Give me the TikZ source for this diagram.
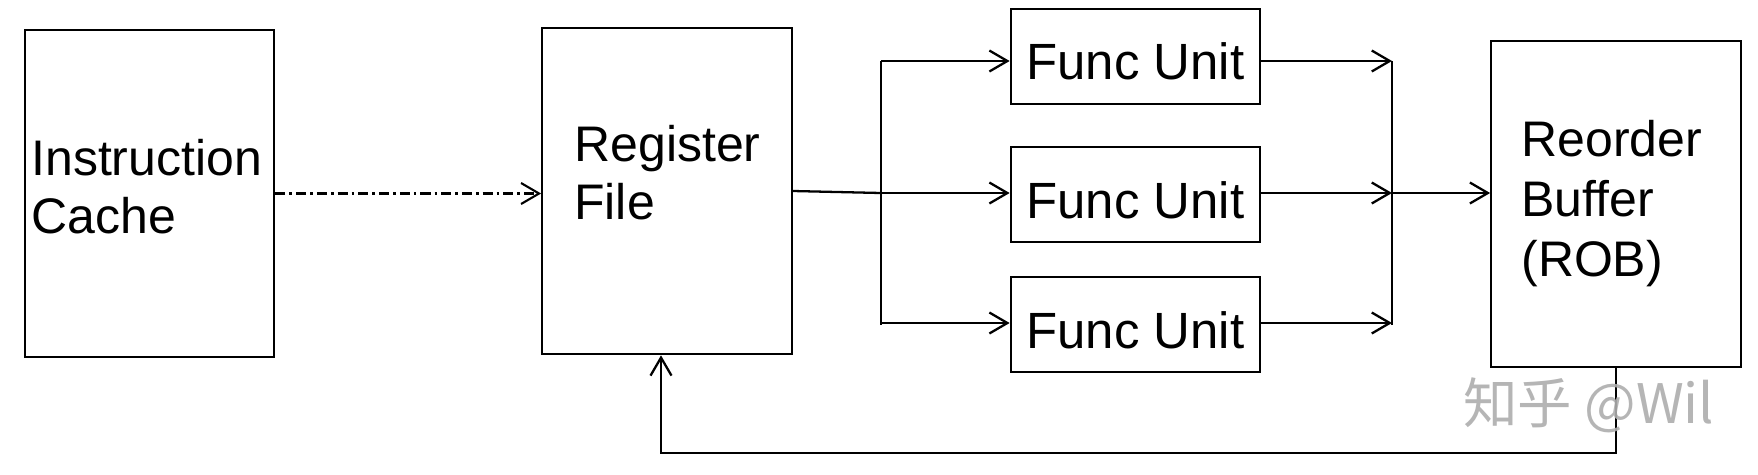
\documentclass[tikz,border=0pt]{standalone}
\usepackage{fontspec}
\setmainfont{Liberation Sans}
\newfontfamily\cjkfont{Noto Sans CJK SC}
\usetikzlibrary{arrows.meta, calc}

\begin{document}
\begin{tikzpicture}[
    x=0.02cm, y=-0.02cm,
    block/.style={
        rectangle,
        draw,
        line width=1.3pt,
        inner sep=0pt,
        minimum width=4.99cm,
        minimum height=6.53cm
    },
    unit/.style={
        block,
        minimum height=1.9cm,
        text height=0.94cm,
        text depth=0pt,
        font=\fontsize{29}{33}\selectfont
    },
    caption/.style={
        anchor=west,
        inner sep=0pt,
        align=left,
        font=\fontsize{28.45}{33}\selectfont
    },
    wire/.style={line width=1.3pt},
    flow/.style={
        wire,
        -{Straight Barb[length=0.36cm, width=0.42cm]}
    }
]
\useasboundingbox (0,0) rectangle (1758,474);

% Left column
\node[block] (ic) at (149.5,193.5) {};
\node[caption] (ictext) at (31,187) {Instruction\\Cache};

% Register file
\node[block] (rf) at (667,191) {};
\node[caption] (rftext) at (574,173) {Register\\File};

% Functional units
\node[unit] (fu1) at (1135.5,56.5) {Func Unit};
\node[unit] (fu2) at (1135.5,194.5) {Func Unit};
\node[unit] (fu3) at (1135.5,324.5) {Func Unit};

% Reorder buffer
\node[block] (rob) at (1616,204) {};
\node[caption, font=\fontsize{28.45}{34.2}\selectfont] (robtext)
    at (1521,203.5) {Reorder\\Buffer\\(ROB)};

% Fetch
\draw[flow, line width=1.2pt, dash pattern=on 5.7pt off 2.3pt on 1.5pt off 2.3pt]
    (ic.east) -- (ic.east -| rf.west);

% Issue
\coordinate (split) at (881,193);
\coordinate (join) at (1392,193);
\draw[wire] (rf.east) -- (split);
\draw[wire] ($(split |- fu1.west)+(0,4.5)$) -- (split |- fu3.west);
\draw[wire] ($(join |- fu1.east)+(0,4.5)$) -- (join |- fu3.east);
\foreach \u/\dy in {fu1/4.5, fu2/-1.5, fu3/-1.5} {
    \draw[flow] ($(split |- \u.west)+(0,\dy)$) -- ($(\u.west)+(0,\dy)$);
    \draw[flow] ($(\u.east)+(0,\dy)$) -- ($(join |- \u.east)+(0,\dy)$);
}

% Writeback
\draw[flow] (join) -- (join -| rob.west);

% Commit
\coordinate (back) at (661,453);
\draw[flow] (rob.south) |- (back) -- (back |- rf.south);

% Watermark
\node[anchor=west, inner sep=0pt, text=black!32, opacity=0.9,
      font=\cjkfont\fontsize{31}{31}\selectfont] (mark) at (1463,405)
      {知乎 @Wil};

\end{tikzpicture}
\end{document}
